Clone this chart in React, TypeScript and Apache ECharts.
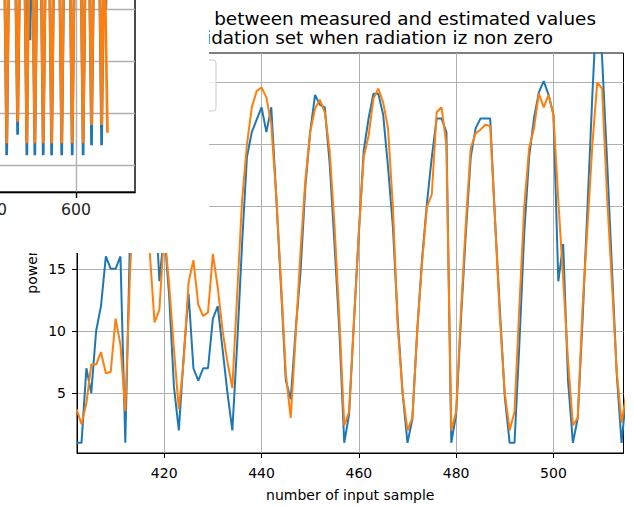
import React, { useEffect, useRef } from "react";
import * as echarts from "echarts";

// ---------- main chart data (samples 402 .. 515) ----------
const FIRST_SAMPLE = 402;

const measuredPower = [
  1, 1, 7, 5, 10, 12, 16, 15, 15, 16,
  1, 18, 26, 30, 31, 28, 22, 14, 18, 12.9,
  5.5, 2, 8, 13, 7, 6, 7, 7, 11, 12,
  8.5, 5, 2, 9, 17, 24, 26, 27, 28, 26,
  28, 21, 13.5, 6, 4.5, 10, 14.7, 21.6, 26, 29,
  28.2, 28, 23.5, 17, 10, 1, 3.3, 10.8, 17.9, 24.5,
  27.1, 29.1, 29.1, 27.4, 23.2, 18.4, 10.8, 5, 1, 2.9,
  10, 15.8, 20.3, 24, 27.1, 27.1, 26, 1, 3.3, 11,
  17.9, 24, 26.3, 27.1, 27.1, 27.1, 18.9, 11.6, 4.7, 1,
  1, 9, 17.9, 24, 27.1, 29.2, 30.1, 29, 27.4, 14,
  17, 6, 1, 3, 11, 20, 29, 37, 32, 23.9,
  15.3, 6.6, 1, 5,
];

const estimatedPower = [
  3.7, 2.5, 4.2, 7.3, 7.3, 8.3, 6.6, 6.7, 11, 8.9,
  3.55, 15, 23, 28, 25, 16.5, 10.7, 11.7, 18, 13.8,
  8.5, 3.7, 7.6, 13.9, 15.7, 12.1, 11.2, 11.5, 16.2, 13.5,
  10, 7.5, 5.4, 13, 20.5, 25, 28, 29.3, 29.6, 28.8,
  26.6, 21, 14, 6.5, 3, 9.5, 16.3, 22.1, 26, 27.9,
  28.6, 27.6, 24.5, 18.5, 11, 2.4, 3.5, 10.8, 17.9, 24,
  25.7, 28.7, 29.5, 28.4, 26.3, 20, 10.3, 5, 2, 3,
  10, 15.5, 20, 21, 27.6, 28, 25, 2, 3.5, 11.6,
  18.7, 24.7, 25.9, 26.2, 26.6, 26.5, 18.9, 11, 5, 2,
  3.5, 12, 20, 24.7, 26.3, 29.1, 28, 29, 27.4, 20.5,
  14.2, 7.6, 2.4, 3, 12, 18.4, 25, 30, 29.5, 21,
  14, 6.8, 2.6, 5,
];

const xTickValues = [420, 440, 460, 480, 500];
const yTickValues = [5, 10, 15, 20, 25, 30];
const yLabelValues = [5, 10, 15]; // 20..30 lie under the white inset panel

const titleLine1 = "Differences between measured and estimated values";
const titleLine2 = "on validation set when radiation iz non zero";
const xAxisTitle = "number of input sample";
const yAxisTitle = "power";

// ---------- inset chart data (partially visible, top-left) ----------
const insetMeasuredSamples = [
  429, 435, 441, 455, 461, 467, 477, 483, 487, 490.5, 494, 496, 502, 508,
  516, 522, 528, 536, 542, 548, 560, 566, 572, 585, 591, 597, 611, 617, 623,
  631, 637, 643, 655, 661, 667, 671, 675,
];
const insetMeasuredValues = [
  45, 1.9, 45, 45, 5.8, 45, 45, 1.9, 45, 24, 45, 45, 1.9, 45,
  45, 1.9, 45, 45, 1.9, 45, 45, 1.9, 45, 45, 1.9, 45, 45, 1.9, 45,
  45, 3.8, 45, 45, 3.8, 45, 30, 45,
];
const insetEstimatedSamples = [
  429, 435, 441, 455, 461, 467, 477, 483, 489, 496, 502, 508,
  516, 522, 528, 536, 542, 548, 560, 566, 572, 585, 591, 597, 611, 617, 623,
  631, 637, 643, 655, 661, 667, 675,
];
const insetEstimatedValues = [
  45, 4.2, 45, 45, 8.3, 45, 45, 4.2, 45, 45, 4.2, 45,
  45, 4.2, 45, 45, 4.2, 45, 45, 4.2, 45, 45, 4.2, 45, 45, 4.2, 45,
  45, 7.7, 45, 45, 7.7, 45, 6.2,
];
const insetXLabelValues = [400, 600];

const BLUE = "#1f77b4";
const ORANGE = "#ff7f0e";
const FONT = "DejaVu Sans";

export default function App() {
  const mainRef = useRef<HTMLDivElement>(null);
  const insetRef = useRef<HTMLDivElement>(null);

  useEffect(() => {
    if (!mainRef.current || !insetRef.current) return;
    const main = echarts.init(mainRef.current, null, { renderer: "svg" });
    const inset = echarts.init(insetRef.current, null, { renderer: "svg" });

    const toPairs = (vals: number[]) => vals.map((v, i) => [FIRST_SAMPLE + i, v]);

    main.setOption({
      animation: false,
      backgroundColor: "#ffffff",
      textStyle: { fontFamily: FONT },
      grid: {
        left: 77,
        top: 53,
        width: 546.5,
        height: 408,
        show: true,
        borderColor: "#000",
        borderWidth: 1,
      },
      xAxis: {
        type: "value",
        min: 402.07,
        max: 514.4,
        splitNumber: 5,
        name: xAxisTitle,
        nameLocation: "middle",
        nameGap: 35,
        nameTextStyle: { fontSize: 14, color: "#000", fontFamily: FONT },
        axisLine: { show: true, onZero: false, lineStyle: { color: "#000", width: 1 } },
        axisTick: {
          show: true,
          inside: false,
          length: 5,
          customValues: xTickValues,
          lineStyle: { color: "#000", width: 1 },
        },
        axisLabel: {
          customValues: xTickValues,
          margin: 13,
          fontSize: 14,
          color: "#000",
          fontFamily: FONT,
        },
        splitLine: { show: true, lineStyle: { color: "#b0b0b0", width: 1 } },
      },
      yAxis: {
        type: "value",
        min: 0.18,
        max: 32.37,
        splitNumber: 5,
        axisLine: { show: true, onZero: false, lineStyle: { color: "#000", width: 1 } },
        axisTick: {
          show: true,
          inside: false,
          length: 5,
          customValues: yTickValues,
          lineStyle: { color: "#000", width: 1 },
        },
        axisLabel: {
          customValues: yLabelValues,
          margin: 11,
          fontSize: 14,
          color: "#000",
          fontFamily: FONT,
        },
        splitLine: { show: true, lineStyle: { color: "#b0b0b0", width: 1 } },
      },
      graphic: [
        {
          type: "text",
          x: 596,
          y: 18.5,
          z: 50,
          style: {
            text: titleLine1,
            font: `18.4px "${FONT}"`,
            lineHeight: 16,
            fill: "#000",
            align: "right",
            verticalAlign: "middle",
          },
        },
        {
          type: "text",
          x: 553,
          y: 37,
          z: 50,
          style: {
            text: titleLine2,
            font: `18.4px "${FONT}"`,
            lineHeight: 16,
            fill: "#000",
            align: "right",
            verticalAlign: "middle",
          },
        },
        {
          type: "text",
          x: 32,
          y: 272,
          z: 50,
          rotation: Math.PI / 2,
          style: {
            text: yAxisTitle,
            font: `14px "${FONT}"`,
            fill: "#000",
            align: "center",
            verticalAlign: "middle",
          },
        },
        {
          type: "rect",
          x: 84,
          y: 60,
          z: 50,
          shape: { width: 132, height: 51, r: 3 },
          style: { fill: "rgba(255,255,255,0.8)", stroke: "#cccccc", lineWidth: 1 },
        },
      ],
      series: [
        {
          type: "line",
          data: toPairs(measuredPower),
          showSymbol: false,
          symbol: "none",
          clip: true,
          z: 2,
          lineStyle: { color: BLUE, width: 2 },
          itemStyle: { color: BLUE },
        },
        {
          type: "line",
          data: toPairs(estimatedPower),
          showSymbol: false,
          symbol: "none",
          clip: true,
          z: 3,
          lineStyle: { color: ORANGE, width: 2 },
          itemStyle: { color: ORANGE },
        },
      ],
    });

    inset.setOption({
      animation: false,
      backgroundColor: "#ffffff",
      textStyle: { fontFamily: FONT },
      grid: {
        left: 24,
        right: 74,
        top: 10,
        bottom: 61,
        show: true,
        borderColor: "#000",
        borderWidth: 1.4,
      },
      xAxis: {
        type: "value",
        min: 0,
        max: 740.5,
        interval: 200,
        axisLine: { show: true, onZero: false, lineStyle: { color: "#000", width: 1.4 } },
        axisTick: {
          show: true,
          inside: false,
          length: 6,
          customValues: [0, 200, 400, 600],
          lineStyle: { color: "#000", width: 1.4 },
        },
        axisLabel: {
          customValues: insetXLabelValues,
          margin: 9,
          fontSize: 15.7,
          color: "#222",
          fontFamily: FONT,
        },
        splitLine: { show: true, lineStyle: { color: "#b0b0b0", width: 1.4 } },
      },
      yAxis: {
        type: "value",
        min: -5.19,
        max: 41.35,
        splitNumber: 5,
        axisLine: { show: false },
        axisTick: { show: false },
        axisLabel: { show: false },
        splitLine: { show: true, lineStyle: { color: "#b0b0b0", width: 1.4 } },
      },
      series: [
        {
          type: "line",
          data: insetMeasuredSamples.map((s, i) => [s, insetMeasuredValues[i]]),
          showSymbol: false,
          symbol: "none",
          clip: true,
          z: 2,
          lineStyle: { color: BLUE, width: 2.7 },
        },
        {
          type: "line",
          data: insetEstimatedSamples.map((s, i) => [s, insetEstimatedValues[i]]),
          showSymbol: false,
          symbol: "none",
          clip: true,
          z: 3,
          lineStyle: { color: ORANGE, width: 2.7 },
        },
      ],
    });

    return () => {
      main.dispose();
      inset.dispose();
    };
  }, []);

  return (
    <div
      style={{
        position: "fixed",
        left: 0,
        top: 0,
        width: 634,
        height: 507,
        background: "#ffffff",
        overflow: "hidden",
      }}
    >
      <div ref={mainRef} style={{ position: "absolute", left: 0, top: 0, width: 634, height: 507 }} />
      <div
        style={{
          position: "absolute",
          left: 0,
          top: 0,
          width: 209,
          height: 253,
          background: "#ffffff",
          overflow: "hidden",
        }}
      >
        <div
          ref={insetRef}
          style={{ position: "absolute", left: -200, top: -60, width: 409, height: 313 }}
        />
      </div>
    </div>
  );
}
